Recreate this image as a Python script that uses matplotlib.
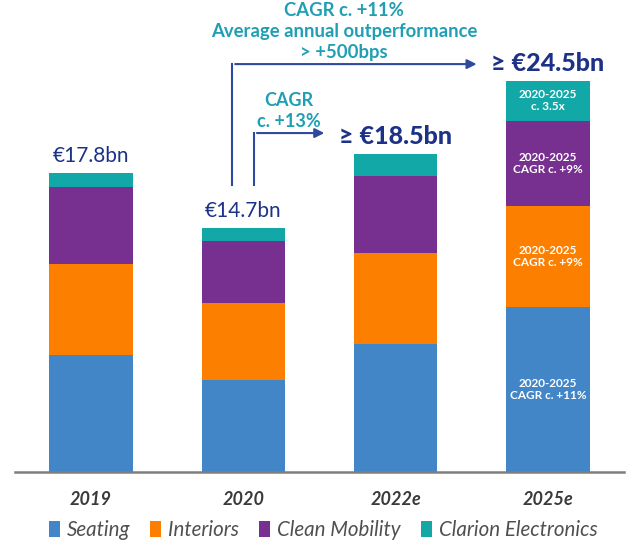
import numpy as np
import matplotlib
matplotlib.use('Agg')
import matplotlib.pyplot as plt

plt.rcParams['font.family'] = ['Lato', 'DejaVu Sans']

years = ['2019', '2020', '2022e', '2025e']
seating = [6.97, 5.48, 7.63, 9.82]
interiors = [5.42, 4.57, 5.41, 6.04]
clean_mobility = [4.61, 3.73, 4.61, 5.07]
clarion = [0.80, 0.74, 1.33, 2.40]
total_labels = ['€17.8bn', '€14.7bn', '≥ €18.5bn', '≥ €24.5bn']
seg_labels_2025 = ['2020-2025\nCAGR c. +11%', '2020-2025\nCAGR c. +9%',
                   '2020-2025\nCAGR c. +9%', '2020-2025\nc. 3.5x']
top_lines = ['CAGR c. +11%', 'Average annual outperformance', '> +500bps']
mid_lines = ['CAGR', 'c. +13%']

series = [('Seating', seating, '#4286c8'),
          ('Interiors', interiors, '#fd7f00'),
          ('Clean Mobility', clean_mobility, '#773090'),
          ('Clarion Electronics', clarion, '#12a8a8')]

navy = '#1d3287'
arrow_col = '#2d4a9e'
teal_txt = '#1f9fb4'

fig = plt.figure(figsize=(6.4, 5.55), dpi=100)
ax = fig.add_axes([15/640, 83/555, 609/640, 472/555])

x = np.arange(len(years))
bottom = np.zeros(len(years))
for name, vals, col in series:
    ax.bar(x, vals, 0.55, bottom=bottom, color=col, label=name, zorder=2)
    bottom += np.array(vals)
totals = bottom.copy()

# white labels in the 2025e bar
b = 0
for vals, lab in zip([s[1] for s in series], seg_labels_2025):
    ax.text(3, b + vals[3] / 2, lab, ha='center', va='center', color='white',
            fontsize=8.5, fontweight='bold', linespacing=1.15)
    b += vals[3]

for i, lab in enumerate(total_labels):
    if lab.startswith('≥'):
        ax.annotate(lab, (i, totals[i]), xytext=(0, 4), textcoords='offset points',
                    ha='center', va='bottom', fontsize=18, fontweight='black', color=navy)
    else:
        ax.annotate(lab, (i, totals[i]), xytext=(0, 5), textcoords='offset points',
                    ha='center', va='bottom', fontsize=15, color=navy)

# growth arrows
ax.plot([0.928, 0.928], [17.1, 24.31], color=arrow_col, lw=1.5, zorder=3)
ax.annotate('', xy=(2.55, 24.31), xytext=(0.928, 24.31),
            arrowprops=dict(arrowstyle='-|>', color=arrow_col, lw=1.5, mutation_scale=14))
ax.plot([1.071, 1.071], [17.1, 20.2], color=arrow_col, lw=1.5, zorder=3)
ax.annotate('', xy=(1.55, 20.2), xytext=(1.071, 20.2),
            arrowprops=dict(arrowstyle='-|>', color=arrow_col, lw=1.5, mutation_scale=14))

# px rows from the top -> data units
for k, line in enumerate(top_lines):
    ax.text(1.66, (472 - (10 + 21 * k)) / 16.78, line, ha='center', va='center',
            color=teal_txt, fontsize=13.3, fontweight='bold')
for k, line in enumerate(mid_lines):
    ax.text(1.3, (472 - (100 + 21 * k)) / 16.78, line, ha='center', va='center',
            color=teal_txt, fontsize=13, fontweight='bold')

ax.set_xlim(-0.5, 3.5)
ax.set_ylim(0, 28.13)
ax.set_yticks([])
ax.set_xticks(x)
ax.set_xticklabels(years, fontsize=13, fontweight='bold', fontstyle='italic', color='#3a3a3a')
ax.tick_params(axis='x', length=0, pad=14)
for s in ['top', 'right', 'left']:
    ax.spines[s].set_visible(False)
ax.spines['bottom'].set_color('#7f7f7f')
ax.spines['bottom'].set_linewidth(1.8)

leg = fig.legend(loc='center', bbox_to_anchor=(0.505, 25/555), ncol=4, frameon=False,
                 handlelength=0.55, handleheight=0.85, handletextpad=0.35, columnspacing=0.95,
                 prop=dict(size=14.8, style='italic'))
for t in leg.get_texts():
    t.set_color('#505050')

fig.savefig('out.png', dpi=100)
